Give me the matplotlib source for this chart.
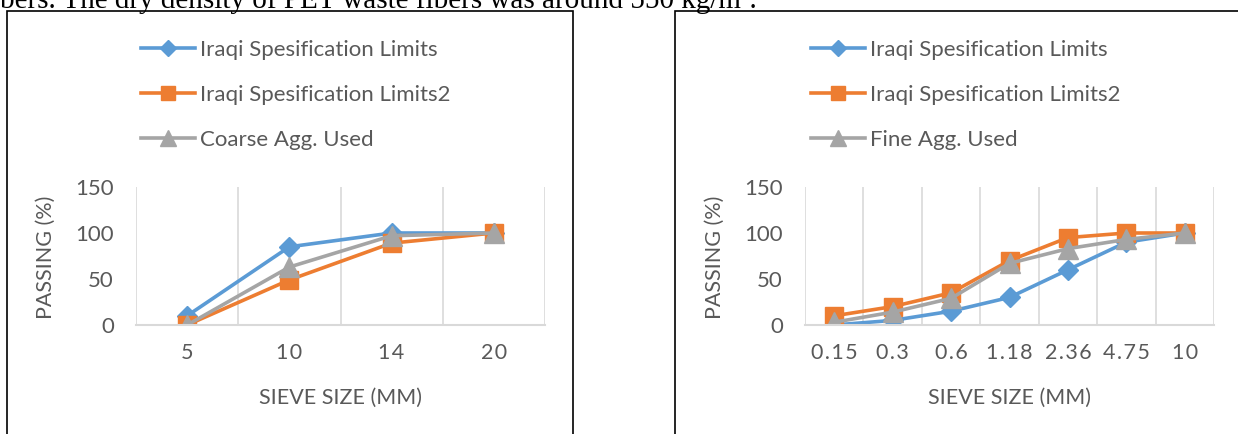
import matplotlib
matplotlib.use("Agg")
import matplotlib.pyplot as plt
from matplotlib.patches import Rectangle

## data
coarse_sizes = ["5", "10", "14", "20"]
coarse_lim1 = [10, 85, 100, 100]
coarse_lim2 = [0, 49, 89, 100]
coarse_used = [0, 63, 97, 100]

fine_sizes = ["0.15", "0.3", "0.6", "1.18", "2.36", "4.75", "10"]
fine_lim1 = [0, 5, 15, 30, 60, 90, 100]
fine_lim2 = [10, 20, 35, 70, 95, 100, 100]
fine_used = [3, 14, 29, 67, 83, 93, 100]

series_names = ["Iraqi Spesification Limits", "Iraqi Spesification Limits2"]

BLUE = "#5B9BD5"
ORANGE = "#ED7D31"
GRAY = "#A5A5A5"
TXT = "#595959"
GRID = "#D9D9D9"
FONT = ["Lato", "DejaVu Sans"]

W, H = 1238, 434
fig = plt.figure(figsize=(W / 100, H / 100), dpi=100)

# caption line of the surrounding document, cut at the top
fig.text(0, 1 - 8 / H, "bers. The dry density of PET waste fibers was around 550 kg/m\u00b3.",
         family="Liberation Serif", fontsize=21, color="black", va="baseline", ha="left")

# black frames around both charts
for x0, x1 in [(7, 573), (675, 1260)]:
    fig.add_artist(Rectangle((x0 / W, -0.1), (x1 - x0) / W, 1.1 - 11 / H,
                             transform=fig.transFigure, fill=False, edgecolor="black",
                             linewidth=1.2, clip_on=False))


def spaced(s):
    return "\u200a".join(s)


def draw(left_px, sizes, lim1, lim2, used, used_name, legend_x):
    ax = fig.add_axes([left_px / W, (H - 325) / H, 409 / W, 138 / H])
    x = list(range(len(sizes)))
    ax.plot(x, lim1, color=BLUE, lw=2.6, marker="D", ms=10, label=series_names[0])
    ax.plot(x, lim2, color=ORANGE, lw=2.6, marker="s", ms=13, label=series_names[1])
    ax.plot(x, used, color=GRAY, lw=2.6, marker="^", ms=14, label=used_name)

    ax.set_xlim(-0.5, len(sizes) - 0.5)
    ax.set_ylim(0, 150)
    ax.set_yticks([0, 50, 100, 150])
    ax.set_xticks(x)
    ax.set_xticklabels([spaced(s) for s in sizes], family=FONT, fontsize=15.5, color=TXT)
    for lab in ax.get_yticklabels():
        lab.set_family(FONT)
        lab.set_fontsize(16)
        lab.set_color(TXT)
    ax.tick_params(axis="both", length=0)
    ax.tick_params(axis="y", pad=16)
    ax.tick_params(axis="x", pad=13)

    for b in [i - 0.5 for i in range(len(sizes) + 1)]:
        ax.axvline(b, color=GRID, lw=1.2, zorder=0)
    for side in ["top", "right", "left"]:
        ax.spines[side].set_visible(False)
    ax.spines["bottom"].set_color(GRID)
    ax.spines["bottom"].set_linewidth(1.5)
    ax.patch.set_alpha(0)

    ax.set_ylabel("PASSING (%)", family=FONT, fontsize=15.5, color=TXT)
    ax.yaxis.set_label_coords(-0.197, 0.49)
    ax.set_xlabel("SIEVE SIZE (MM)", family=FONT, fontsize=15.5, color=TXT)
    ax.xaxis.set_label_coords(0.5, -0.457)

    leg = ax.legend(loc="upper left", bbox_to_anchor=(legend_x / W, 1 - 40 / H),
                    bbox_transform=fig.transFigure, frameon=False, borderpad=0,
                    borderaxespad=0, handlelength=2.45, handletextpad=0.2,
                    labelspacing=1.12, markerscale=0.8, prop={"family": FONT, "size": 16})
    for t in leg.get_texts():
        t.set_color(TXT)
    return ax


draw(136, coarse_sizes, coarse_lim1, coarse_lim2, coarse_used, "Coarse Agg. Used", 141)
draw(805, fine_sizes, fine_lim1, fine_lim2, fine_used, "Fine Agg. Used", 811)

fig.savefig("out.png", dpi=100)
